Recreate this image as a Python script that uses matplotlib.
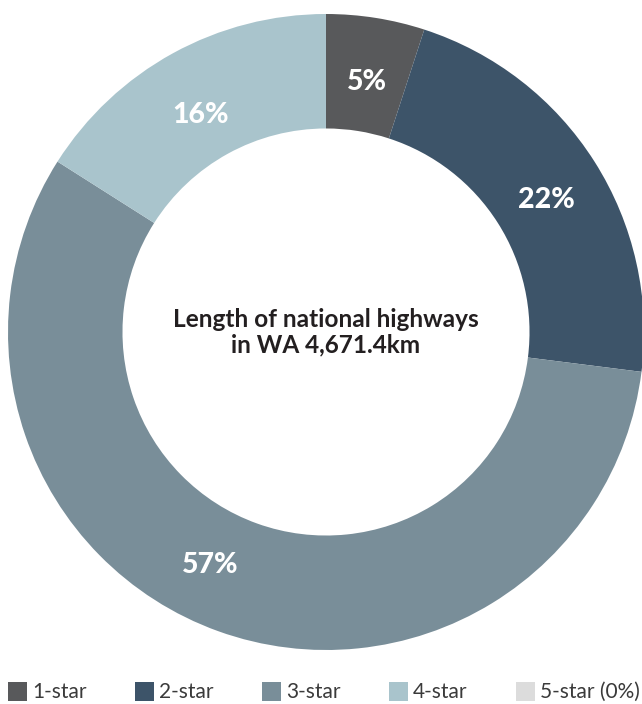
import matplotlib.pyplot as plt
from matplotlib.patches import Rectangle

categories = ["1-star", "2-star", "3-star", "4-star", "5-star (0%)"]
shares = [5, 22, 57, 16, 0]
colors = ["#58595b", "#3d5469", "#798e99", "#a9c4cc", "#dcdcdc"]
center_text = "Length of national highways\nin WA 4,671.4km"

plt.rcParams["font.family"] = ["Lato", "DejaVu Sans"]

W, H = 642, 704
fig = plt.figure(figsize=(W / 100, H / 100), dpi=100)
ax = fig.add_axes([8 / W, 54 / H, 636 / W, 636 / H])

drawn = [(v, c) for v, c in zip(shares, colors) if v > 0]
wedges, texts = ax.pie(
    [v for v, _ in drawn],
    colors=[c for _, c in drawn],
    startangle=90,
    counterclock=False,
    radius=1,
    labels=[f"{v}%" for v, _ in drawn],
    labeldistance=0.82,
    wedgeprops=dict(width=0.36, edgecolor="none"),
    textprops=dict(color="white", fontsize=20.5, fontweight="black",
                   ha="center", va="center"),
)
for w in wedges:
    w.set_clip_on(False)

# small manual nudges so labels sit where the original puts them (data units)
label_nudge = [(0, -0.025), (0, -0.025), (-0.085, 0.04), (0, -0.035)]
for t, (dx, dy) in zip(texts, label_nudge):
    x, y = t.get_position()
    t.set_position((x + dx, y + dy))

ax.set_xlim(-1, 1)
ax.set_ylim(-1, 1)
ax.set_aspect("equal")
ax.axis("off")

ax.text(0, 0, center_text, ha="center", va="center", fontsize=17.6,
        fontweight="bold", color="#231f20", linespacing=1.1)

# legend row along the bottom
for i, (lab, c) in enumerate(zip(categories, colors)):
    x0 = 8 + i * 127
    fig.patches.append(Rectangle((x0 / W, (H - 701) / H), 19 / W, 19 / H,
                                 facecolor=c, edgecolor="none",
                                 transform=fig.transFigure, figure=fig))
    fig.text((x0 + 24) / W, (H - 692) / H, lab, ha="left", va="center",
             fontsize=15, color="#3a3a3a")

fig.savefig("out.png", dpi=100)
